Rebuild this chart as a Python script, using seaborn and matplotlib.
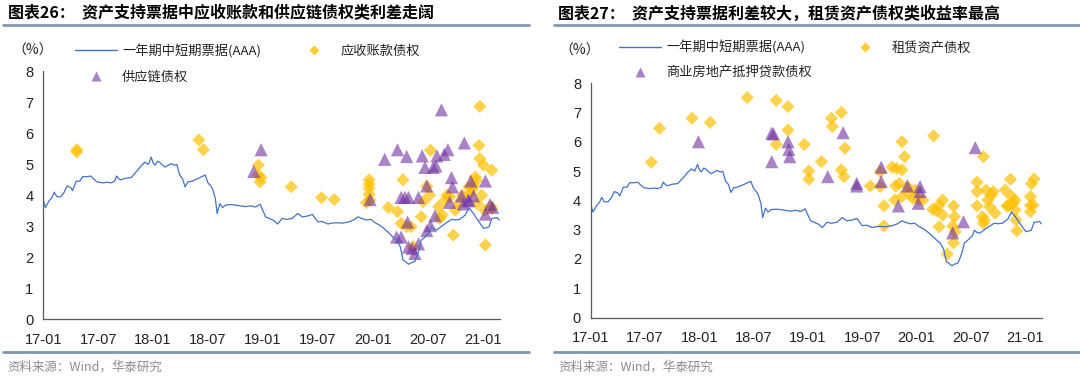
import pandas as pd
import matplotlib
matplotlib.use('Agg')
import matplotlib.pyplot as plt
import seaborn as sns
from matplotlib.lines import Line2D

# months since 2017-01 and yield of 1y MTN (AAA), %
ncd_month = [0, 0.25, 0.6, 1.0, 1.2, 1.5, 1.9, 2.3, 2.6, 3.0,
             3.2, 3.6, 4.0, 4.3, 4.8, 5.2, 5.6, 5.9, 6.5, 7.0,
             7.4, 7.8, 8.0, 8.3, 8.5, 9.0, 9.6, 10.0, 10.3, 10.7,
             11.1, 11.5, 11.8, 12.0, 12.2, 12.5, 12.7, 13.0, 13.3, 13.7,
             14.0, 14.3, 14.6, 14.9, 15.2, 15.5, 15.8, 16.2, 16.6, 17.0,
             17.3, 17.7, 18.0, 18.3, 18.5, 18.8, 19.0, 19.3, 19.6, 19.9,
             20.5, 21.0, 21.5, 22.1, 22.6, 23.2, 23.7, 24.0, 24.3, 24.7,
             25.2, 25.6, 26.1, 26.6, 27.2, 27.8, 28.3, 28.9, 29.4, 30.0,
             30.5, 31.1, 31.5, 32.0, 32.7, 33.4, 33.9, 34.4, 34.8, 35.3,
             35.8, 36.2, 36.7, 37.2, 37.8, 38.2, 38.6, 39.0, 39.3, 39.6,
             39.9, 40.2, 40.6, 40.8, 41.0, 41.3, 41.6, 41.9, 42.2, 42.4,
             42.7, 43.0, 43.3, 43.7, 44.1, 44.6, 45.0, 45.5, 46.1, 46.5,
             47.0, 47.6, 48.1, 48.4, 48.7, 49.0, 49.3, 49.6, 49.8]
ncd_yield = [3.85, 3.60, 3.80, 3.95, 4.10, 3.95, 3.95, 4.10, 4.30, 4.25,
             4.15, 4.45, 4.45, 4.60, 4.60, 4.62, 4.50, 4.43, 4.40, 4.42,
             4.40, 4.45, 4.62, 4.52, 4.50, 4.55, 4.57, 4.70, 4.80, 4.95,
             5.07, 5.00, 5.23, 5.05, 4.97, 5.10, 5.07, 4.98, 4.91, 4.98,
             5.02, 4.97, 4.99, 4.65, 4.55, 4.27, 4.43, 4.45, 4.50, 4.55,
             4.60, 4.65, 4.40, 4.30, 4.20, 3.90, 3.41, 3.73, 3.60, 3.68,
             3.70, 3.68, 3.66, 3.63, 3.66, 3.62, 3.71, 3.50, 3.30, 3.25,
             3.18, 3.07, 3.25, 3.22, 3.25, 3.41, 3.30, 3.33, 3.38, 3.14,
             3.15, 3.07, 3.10, 3.11, 3.10, 3.14, 3.20, 3.30, 3.25, 3.20,
             3.22, 3.12, 3.04, 2.93, 2.77, 2.65, 2.55, 2.34, 1.91, 1.85,
             1.77, 1.82, 1.86, 2.02, 2.18, 2.55, 2.62, 2.71, 2.80, 2.98,
             2.90, 2.88, 2.95, 3.04, 3.12, 3.22, 3.20, 3.22, 3.36, 3.60,
             3.41, 3.14, 2.93, 2.95, 2.98, 3.25, 3.26, 3.28, 3.20]

# left panel: accounts receivable ABN
ar_month = [3.67, 3.67, 17.0, 17.5, 23.5, 23.5, 23.7, 23.8, 27.1, 30.4,
            31.8, 35.6, 35.6, 35.6, 35.6, 35.3, 35.7, 37.7, 38.7, 39.3,
            39.1, 39.7, 40.2, 40.4, 41.3, 41.5, 41.9, 42.2, 42.3, 43.2,
            43.3, 43.6, 43.9, 44.1, 44.8, 45.0, 46.6, 46.5, 47.0, 47.3,
            47.7, 47.6, 47.7, 48.1, 47.9, 48.2, 48.3, 49.0, 48.9, 49.0,
            47.4, 47.2, 45.4, 45.8, 46.9, 44.4]
ar_spread = [5.47, 5.40, 5.79, 5.47, 4.97, 4.65, 4.43, 4.57, 4.27, 3.92,
             3.86, 4.50, 4.36, 4.22, 4.03, 3.76, 3.84, 3.60, 3.47, 4.50,
             3.09, 2.98, 2.98, 2.34, 3.30, 3.79, 4.29, 4.00, 5.45, 3.63,
             3.25, 3.36, 3.84, 4.00, 2.71, 3.52, 4.06, 4.27, 4.32, 4.48,
             6.87, 5.61, 5.18, 4.97, 4.00, 3.52, 2.39, 4.81, 3.63, 3.57,
             3.73, 4.59, 3.75, 4.00, 4.20, 3.95]

# left panel: supply chain ABN
sc_month = [23.0, 23.8, 35.7, 37.3, 38.7, 39.7, 39.1, 39.5, 39.9, 38.6,
            39.1, 39.8, 39.9, 40.3, 40.6, 41.0, 41.0, 41.4, 41.7, 41.9,
            41.9, 42.3, 42.6, 42.9, 43.0, 42.8, 43.5, 43.8, 44.2, 44.6,
            44.4, 44.7, 46.0, 45.7, 45.9, 46.5, 46.7, 47.0, 46.4, 48.3,
            48.3, 48.8, 49.1]
sc_spread = [4.77, 5.47, 3.86, 5.16, 5.47, 5.25, 3.93, 3.93, 3.93, 2.65,
             2.65, 3.13, 2.33, 2.28, 2.12, 2.43, 3.93, 5.27, 4.90, 4.30,
             2.86, 3.02, 4.90, 4.95, 5.27, 3.34, 6.76, 5.32, 5.47, 4.57,
             3.77, 4.27, 5.69, 3.98, 3.72, 3.84, 4.46, 3.98, 3.82, 4.46,
             3.39, 3.70, 3.61]

# right panel: leasing ABN
lease_month = [6.7, 7.6, 11.2, 13.2, 17.3, 20.5, 21.8, 21.8, 20.5, 23.6,
               24.1, 24.1, 25.5, 26.6, 26.7, 27.7, 27.7, 28.0, 28.1, 30.9,
               32.0, 32.4, 32.4, 32.0, 33.3, 33.8, 34.4, 34.7, 34.4, 33.7,
               34.1, 33.6, 34.4, 35.0, 35.2, 35.6, 35.9, 36.2, 36.7, 37.9,
               37.8, 38.2, 38.5, 38.9, 38.5, 38.9, 39.4, 40.1, 40.2, 40.0,
               40.1, 40.3, 42.7, 42.7, 42.7, 43.4, 43.3, 43.4, 43.7, 43.9,
               44.1, 44.3, 44.5, 44.7, 43.5, 45.8, 46.0, 46.4, 46.5, 46.7,
               46.9, 47.0, 47.1, 46.9, 46.1, 48.6, 48.6, 48.6, 48.7, 49.0,
               48.9]
lease_yield = [5.30, 6.46, 6.80, 6.66, 7.51, 7.41, 7.20, 6.40, 5.91, 5.91,
               5.00, 4.72, 5.32, 6.80, 6.52, 7.00, 5.04, 4.81, 5.78, 4.49,
               4.47, 3.81, 3.13, 4.98, 5.13, 5.09, 6.00, 5.49, 5.04, 4.49,
               4.58, 4.01, 4.13, 4.47, 4.24, 4.07, 4.35, 4.03, 4.01, 6.20,
               3.69, 3.65, 3.84, 4.01, 3.10, 3.50, 2.17, 3.81, 3.44, 3.12,
               2.55, 2.93, 4.62, 4.30, 3.81, 5.49, 3.44, 3.21, 4.35, 4.01,
               3.78, 4.18, 4.30, 3.56, 3.33, 4.35, 3.81, 4.72, 4.13, 3.90,
               4.01, 3.33, 2.96, 3.67, 3.81, 3.82, 4.13, 3.61, 4.56, 4.73,
               3.84]

# right panel: commercial real estate mortgage ABN
cre_month = [11.9, 20.0, 20.2, 20.0, 21.8, 21.9, 22.0, 26.2, 27.9, 29.4,
             29.4, 32.1, 32.1, 34.0, 35.0, 36.2, 36.4, 36.4, 40.0, 41.2,
             42.5]
cre_yield = [6.00, 6.29, 6.27, 5.32, 6.00, 5.74, 5.49, 4.81, 6.31, 4.58,
             4.49, 5.13, 4.64, 3.81, 4.49, 3.90, 4.47, 4.30, 2.89, 3.27,
             5.80]

tick_month = [0, 6, 12, 18, 24, 30, 36, 42, 48]
tick_label = ['17-01', '17-07', '18-01', '18-07', '19-01', '19-07', '20-01', '20-07', '21-01']

line_name = '一年期中短期票据(AAA)'
panels = [
    dict(title='图表26：  资产支持票据中应收账款和供应链债权类利差走阔',
         d_name='应收账款债权', d_x=ar_month, d_y=ar_spread,
         t_name='供应链债权', t_x=sc_month, t_y=sc_spread,
         box=[0.040, 0.156, 0.423, 0.655], x0=0.003, lx=0.058, px=0.030, ly=0.915),
    dict(title='图表27：  资产支持票据利差较大，租赁资产债权类收益率最高',
         d_name='租赁资产债权', d_x=lease_month, d_y=lease_yield,
         t_name='商业房地产抵押贷款债权', t_x=cre_month, t_y=cre_yield,
         box=[0.547, 0.160, 0.418, 0.620], x0=0.513, lx=0.562, px=0.537, ly=0.925),
]

sns.set_style('white')
plt.rcParams['font.family'] = ['Liberation Sans', 'Noto Sans CJK SC', 'DejaVu Sans']
cjk = ['Noto Sans CJK SC', 'DejaVu Sans']

BLUE = '#4472C4'
GOLD = '#FFC000'
PURPLE = '#7030A0'
RULE = '#8497B0'

fig = plt.figure(figsize=(10.8, 3.78), dpi=100)
line_df = pd.DataFrame({'m': ncd_month, 'v': ncd_yield})

for p in panels:
    ax = fig.add_axes(p['box'])
    sns.lineplot(data=line_df, x='m', y='v', ax=ax, color=BLUE, lw=0.9)
    sns.scatterplot(x=p['d_x'], y=p['d_y'], ax=ax, marker='D', s=45,
                    color=GOLD, alpha=0.7, edgecolor='none')
    sns.scatterplot(x=p['t_x'], y=p['t_y'], ax=ax, marker='^', s=90,
                    color=PURPLE, alpha=0.6, edgecolor='none')
    ax.set_xlim(0, 49.9)
    ax.set_ylim(0, 8)
    ax.set_xticks(tick_month)
    ax.set_xticklabels(tick_label)
    ax.set_yticks(range(0, 9))
    ax.set_xlabel('')
    ax.set_ylabel('')
    for s in ['top', 'right']:
        ax.spines[s].set_visible(False)
    for s in ['left', 'bottom']:
        ax.spines[s].set_color('#595959')
        ax.spines[s].set_linewidth(0.9)
    ax.tick_params(axis='both', direction='out', length=4, width=0.9,
                   color='#595959', labelsize=10.5, labelcolor='#222222', pad=3)
    ax.tick_params(axis='x', pad=6)

    handles = [Line2D([], [], color=BLUE, lw=1.0),
               Line2D([], [], marker='^', ls='', color=PURPLE, alpha=0.6, ms=7, mec='none'),
               Line2D([], [], marker='D', ls='', color=GOLD, alpha=0.8, ms=5, mec='none')]
    labels = [line_name, p['t_name'], p['d_name']]
    leg = fig.legend(handles, labels, ncol=2, frameon=False,
                     loc='upper left', bbox_to_anchor=(p['lx'], p['ly']),
                     prop={'family': cjk, 'size': 9.5}, handlelength=3.2,
                     columnspacing=2.4, labelspacing=0.95, handletextpad=0.4)
    for t in leg.get_texts():
        t.set_color('#222222')

    fig.text(p['px'], 0.866, '（%）', fontsize=10, family=cjk, color='#222222',
             ha='center', va='center')
    fig.text(p['x0'] + 0.004, 0.965, p['title'], fontsize=11.5, fontweight='bold',
             family=cjk, ha='left', va='center', color='#000000')
    fig.add_artist(Line2D([p['x0'], p['x0'] + 0.487], [0.935, 0.935],
                          color=RULE, lw=2.0, transform=fig.transFigure))
    fig.add_artist(Line2D([p['x0'], p['x0'] + 0.487], [0.068, 0.068],
                          color=RULE, lw=2.0, transform=fig.transFigure))
    fig.text(p['x0'] + 0.004, 0.030, '资料来源：Wind，华泰研究', fontsize=9,
             family=cjk, color='#8C8C8C', ha='left', va='center')

fig.savefig('out.png', dpi=100)
